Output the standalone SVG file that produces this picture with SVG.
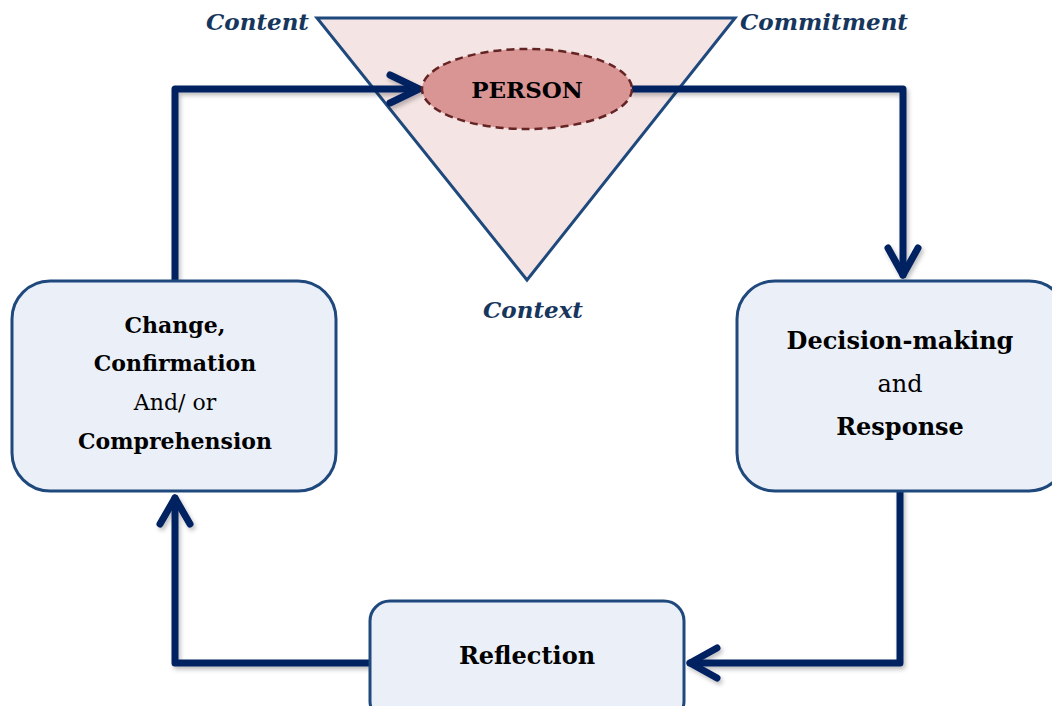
<svg xmlns="http://www.w3.org/2000/svg" width="1052" height="706" viewBox="0 0 1052 706">
<defs>
<style>
.box{fill:#EBF0F8;stroke:#1F497D;stroke-width:3}
.t{font-family:"DejaVu Serif","Liberation Serif",serif;fill:#000;text-anchor:middle}
.b{font-weight:bold}
.lab{font-family:"DejaVu Serif","Liberation Serif",serif;font-style:italic;font-weight:bold;fill:#17365D;font-size:23px}
.con{fill:none;stroke:#002060;stroke-width:7;stroke-linejoin:round;stroke-linecap:round}
</style>
<filter id="sh" x="-10%" y="-10%" width="120%" height="120%">
<feDropShadow dx="2" dy="3" stdDeviation="2" flood-color="#000" flood-opacity="0.25"/>
</filter>
</defs>
<g id="triangle">
<polygon points="317,18 735,18 527,280" fill="#F4E4E4" stroke="#1F497D" stroke-width="3" stroke-linejoin="miter"/>
<text class="lab" x="309" y="30" text-anchor="end">Content</text>
<text class="lab" x="740" y="30">Commitment</text>
<text class="lab" x="533" y="318" text-anchor="middle">Context</text>
</g>
<g id="connectors" filter="url(#sh)">
<path class="con" d="M175,281 V89 H418"/>
<path class="con" d="M390,75 L419,89 L390,103"/>
<path class="con" d="M632,89 H903 V275"/>
<path class="con" d="M888,248 L903,275 L918,248"/>
<path class="con" d="M900,491 V663 H690"/>
<path class="con" d="M717,648 L690,663 L717,678"/>
<path class="con" d="M370,663 H175 V498"/>
<path class="con" d="M160,524 L175,498 L190,524"/>
</g>
<g id="person">
<ellipse cx="527" cy="89" rx="105" ry="40" fill="#D99594" stroke="#632423" stroke-width="2.5" stroke-dasharray="8,5"/>
<text class="t b" x="527" y="98" font-size="23">PERSON</text>
</g>
<g id="change">
<rect class="box" x="12" y="281" width="324" height="210" rx="38"/>
<text class="t b" x="175" y="333" font-size="22">Change,</text>
<text class="t b" x="175" y="371" font-size="22">Confirmation</text>
<text class="t" x="175" y="410" font-size="22">And/ or</text>
<text class="t b" x="175" y="449" font-size="22">Comprehension</text>
</g>
<g id="decision">
<rect class="box" x="737" y="281" width="330" height="210" rx="38"/>
<text class="t b" x="900" y="349" font-size="24">Decision-making</text>
<text class="t" x="900" y="392" font-size="24">and</text>
<text class="t b" x="900" y="435" font-size="24">Response</text>
</g>
<g id="reflection">
<rect class="box" x="370" y="601" width="314" height="120" rx="20"/>
<text class="t b" x="527" y="664" font-size="24">Reflection</text>
</g>
</svg>
